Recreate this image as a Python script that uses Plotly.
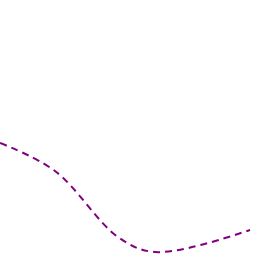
import plotly.graph_objects as go

x_vals = [0, 55, 118, 155, 250]
y_vals = [113, 85, 19, 4, 26]

fig = go.Figure()
fig.add_trace(go.Scatter(
    x=x_vals, y=y_vals, mode="lines",
    line=dict(color="#800080", width=2, dash="7px,5px", shape="spline", smoothing=1),
    showlegend=False,
))
fig.update_layout(
    width=256, height=256,
    margin=dict(l=0, r=0, t=0, b=0),
    paper_bgcolor="white", plot_bgcolor="white",
    xaxis=dict(visible=False, range=[0, 256]),
    yaxis=dict(visible=False, range=[0, 256]),
)
fig.write_html("out.html")
